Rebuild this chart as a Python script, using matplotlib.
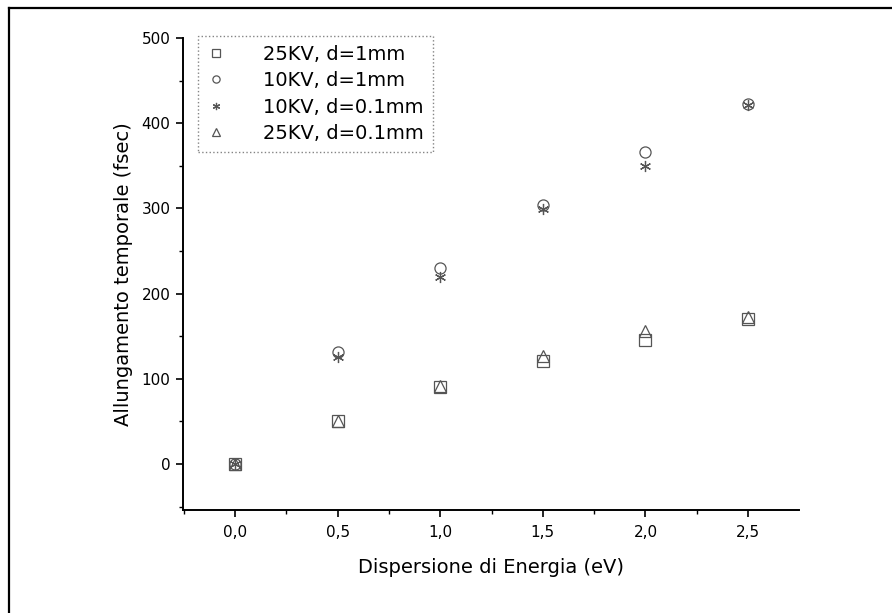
import numpy as np
import matplotlib
matplotlib.use("Agg")
import matplotlib.pyplot as plt
from matplotlib.ticker import MultipleLocator, FuncFormatter
from matplotlib.lines import Line2D

plt.rcParams['font.family'] = ['DejaVu Sans']

# energy dispersion (eV)
energy = [0.0, 0.5, 1.0, 1.5, 2.0, 2.5]
# time stretching (fsec) for each configuration
kv25_d1 = [0, 50, 90, 121, 146, 170]
kv10_d1 = [0, 131, 230, 304, 366, 422]
kv10_d01 = [0, 126, 219, 299, 350, 421]
kv25_d01 = [0, 51, 91, 127, 156, 172]

series = [
    (kv25_d1, 's', "25KV, d=1mm"),
    (kv10_d1, 'o', "10KV, d=1mm"),
    (kv10_d01, (6, 2, 0), "10KV, d=0.1mm"),
    (kv25_d01, '^', "25KV, d=0.1mm"),
]

fig = plt.figure(figsize=(8.92, 6.13), dpi=100)
ax = fig.add_axes([183 / 892, 1 - 510 / 613, (799 - 183) / 892, (510 - 38) / 613])

for vals, mk, lab in series:
    ax.plot(energy, vals, linestyle='none', marker=mk, markersize=8,
            markerfacecolor='none', markeredgecolor='#555555',
            markeredgewidth=0.9, label=lab)

ax.set_xlim(-0.253, 2.748)
ax.set_ylim(-54, 500)
ax.xaxis.set_major_locator(MultipleLocator(0.5))
ax.xaxis.set_minor_locator(MultipleLocator(0.25))
ax.yaxis.set_major_locator(MultipleLocator(100))
ax.yaxis.set_minor_locator(MultipleLocator(50))
ax.xaxis.set_major_formatter(FuncFormatter(lambda v, p: ("%.1f" % v).replace('.', ',')))

for s in ['top', 'right']:
    ax.spines[s].set_visible(False)
for s in ['left', 'bottom']:
    ax.spines[s].set_linewidth(1.4)
ax.tick_params(which='major', direction='out', length=5, width=1.2, labelsize=11, pad=4)
ax.tick_params(axis='x', which='major', pad=6)
ax.tick_params(which='minor', direction='out', length=3, width=1.0)

ax.set_xlabel("Dispersione di Energia (eV)", fontsize=14, labelpad=13)
ax.set_ylabel("Allungamento temporale (fsec)", fontsize=14, labelpad=6)

leg = ax.legend(loc='upper left', bbox_to_anchor=(198 / 892, 1 - 36 / 613),
                bbox_transform=fig.transFigure, borderaxespad=0, fontsize=14,
                frameon=True, fancybox=False, handletextpad=1.9, labelspacing=0.38,
                borderpad=0.45, handlelength=1.0, markerscale=0.65)
fr = leg.get_frame()
fr.set_edgecolor('#666666')
fr.set_linestyle(':')
fr.set_linewidth(1.0)

# outer frame (only left and top visible)
fig.add_artist(Line2D([9 / 892, 9 / 892], [0, 1 - 8 / 613], transform=fig.transFigure,
                      color='black', linewidth=1.6))
fig.add_artist(Line2D([9 / 892, 1], [1 - 8 / 613, 1 - 8 / 613], transform=fig.transFigure,
                      color='black', linewidth=1.6))

fig.savefig("out.png", dpi=100)
